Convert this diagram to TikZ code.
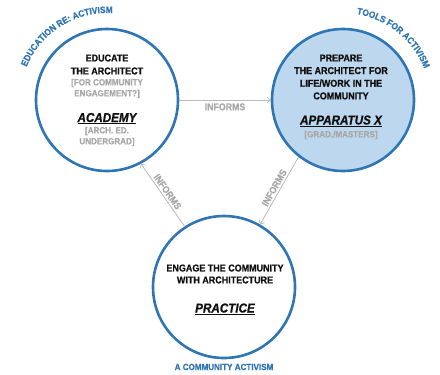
\documentclass[tikz,border=0pt]{standalone}
\usepackage{fontspec}
\setmainfont{Liberation Sans}[FakeStretch=0.9, BoldFeatures={FakeBold=0.8}, BoldItalicFeatures={FakeBold=0.8}]
\usetikzlibrary{arrows.meta,decorations.text}
\definecolor{cblue}{RGB}{46,117,182}
\definecolor{cfill}{RGB}{189,215,238}
\definecolor{cgray}{RGB}{168,168,168}
\definecolor{carrow}{RGB}{185,185,185}
\definecolor{ctext}{RGB}{15,15,15}
\begin{document}
\begin{tikzpicture}[x=1bp,y=-1bp,
  circ/.style={circle, draw=cblue, line width=2.6bp, minimum size=142bp, inner sep=0pt},
  head/.style={font=\fontsize{10}{13}\selectfont\bfseries, text=ctext, align=center, inner sep=0pt},
  sub/.style={font=\fontsize{9}{11}\selectfont\bfseries, text=cgray, align=center, inner sep=0pt},
  big/.style={font=\fontsize{13}{15}\selectfont\bfseries\itshape, text=ctext, anchor=base, inner sep=0pt},
  infl/.style={draw=carrow, line width=0.8bp, -{Straight Barb[length=3bp,width=6bp]}},
  lab/.style={font=\fontsize{9.8}{10}\selectfont\bfseries, text=cgray, inner sep=1bp},
  bluelab/.style={font=\fontsize{9}{10}\selectfont\bfseries, text=cblue}
]
\useasboundingbox (0,0) rectangle (440,374);
% circles
\node[circ] (L) at (107,100) {};
\node[circ, fill=cfill] (R) at (343,100) {};
\node[circ] (B) at (224,287) {};
% left texts
\node[head] (Lh) at (107,64.5) {EDUCATE\\THE ARCHITECT};
\node[sub] (Ls) at (107,88.5) {[FOR COMMUNITY\\ENGAGEMENT?]};
\node[big] (Lb) at (107,122) {\underline{ACADEMY}};
\node[sub] (Ld) at (107,136.5) {[ARCH. ED.\\UNDERGRAD]};
% right texts
\node[head, font=\fontsize{10}{12.7}\selectfont\bfseries] (Rh) at (341,77) {PREPARE\\THE ARCHITECT FOR\\LIFE/WORK IN THE\\COMMUNITY};
\node[big] (Rb) at (341,124.5) {\underline{APPARATUS X}};
\node[sub] (Rd) at (341,135) {[GRAD./MASTERS]};
% bottom texts
\node[head, font=\fontsize{10}{12}\selectfont\bfseries] (Bh) at (225,274) {ENGAGE THE COMMUNITY\\WITH ARCHITECTURE};
\node[big] (Bb) at (225,312.5) {\underline{PRACTICE}};
\node[bluelab] (Bl) at (224,367) {A COMMUNITY ACTIVISM};
% curved labels
\path[decorate, decoration={text along path, text align=center, text color=cblue,
  text={|\fontsize{9.3}{10}\selectfont\bfseries|EDUCATION RE: ACTIVISM}}]
  (L.center) ++(-170:87) arc[start angle=-170, end angle=-74, radius=87];
\path[decorate, decoration={text along path, text align=center, text color=cblue,
  text={|\fontsize{9.3}{10}\selectfont\bfseries|TOOLS FOR ACTIVISM}}]
  (R.center) ++(-100:87) arc[start angle=-100, end angle=-2, radius=87];
% connectors
\draw[infl] (L.east) -- node[lab, below=2bp]{INFORMS} (R.west);
\draw[infl] (B.123) -- node[lab, sloped, above=1bp]{INFORMS} (L.-62);
\draw[infl] (R.-128) -- node[lab, sloped, above=1bp]{INFORMS} (B.60);
\end{tikzpicture}
\end{document}
